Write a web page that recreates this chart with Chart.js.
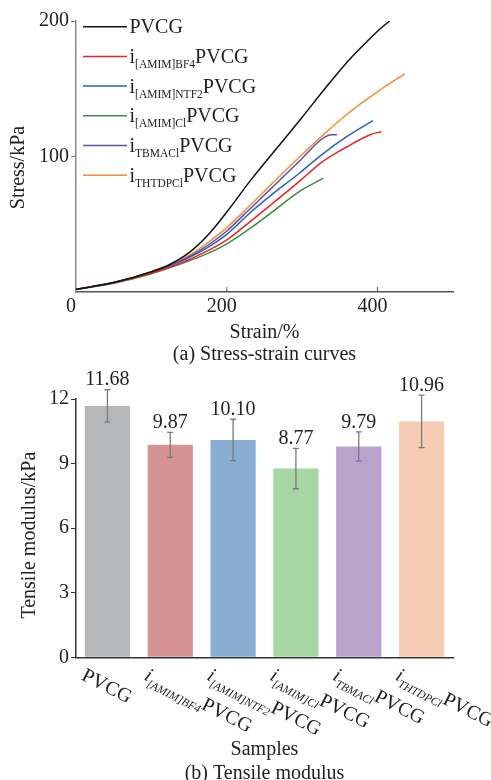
<!DOCTYPE html>
<html>
<head>
<meta charset="utf-8">
<script src="https://cdn.jsdelivr.net/npm/chart.js@4.4.0/dist/chart.umd.min.js"></script>
<style>
  html, body { margin: 0; padding: 0; background: #fff; overflow: hidden; }
  #curveChart { position: absolute; left: 0; top: 0; }
  #modulusChart { position: absolute; left: 0; top: 365px; }
</style>
</head>
<body>
<canvas id="curveChart" width="491" height="365"></canvas>
<canvas id="modulusChart" width="491" height="425"></canvas>
<script>
// (a) stress-strain curves
const strainPVCG    = [0, 50, 100, 125, 150, 175, 200, 231, 275, 300, 330, 360, 388, 405, 416];
const stressPVCG    = [2, 7, 15, 20.5, 29, 42, 59, 82, 112, 129, 150, 170, 186, 195, 200];
const strainBF4     = [0, 50, 100, 125, 150, 175, 200, 231, 260, 297, 324, 359, 390, 405];
const stressBF4     = [2, 6.8, 14, 18.5, 24, 30.5, 38.5, 52, 65, 82, 95, 107, 116, 118.3];
const strainNTF2    = [0, 50, 100, 125, 150, 175, 200, 231, 260, 297, 324, 359, 394];
const stressNTF2    = [2, 7, 14.5, 19.5, 25.5, 33, 42.5, 58.5, 72, 88, 100.5, 114.6, 126.4];
const strainCl      = [0, 50, 100, 125, 150, 175, 200, 231, 260, 297, 328];
const stressCl      = [2, 6.5, 13.5, 18, 23, 28.5, 35.5, 47, 59, 74.5, 84];
const strainTBMACl  = [0, 50, 100, 125, 150, 175, 200, 231, 260, 297, 324, 334, 340, 346];
const stressTBMACl  = [2, 7, 14.5, 19.5, 26, 34.5, 45, 61.5, 77, 97, 112, 115.5, 116, 116];
const strainTHTDPCl = [0, 50, 100, 125, 150, 175, 200, 231, 260, 297, 328, 359, 403, 436];
const stressTHTDPCl = [2, 7, 15, 20, 27, 36.5, 47.5, 64, 80, 100, 116, 131, 149, 161];

const curveSubs = ['', '[AMIM]BF4', '[AMIM]NTF2', '[AMIM]Cl', 'TBMACl', 'THTDPCl'];
const curveColors = ['#111111', '#ec2227', '#2a62b8', '#3d8b45', '#5b53a6', '#f68c38'];
const strainTicks = [0, 200, 400];
const stressTicks = [100, 200];

// (b) tensile modulus
const sampleSubs = ['', '[AMIM]BF4', '[AMIM]NTF2', '[AMIM]Cl', 'TBMACl', 'THTDPCl'];
const sampleLabels = sampleSubs.map(s => (s ? 'i' + s : '') + 'PVCG');
const modulusValues = [11.68, 9.87, 10.10, 8.77, 9.79, 10.96];
const modulusErr = [0.75, 0.58, 0.96, 0.94, 0.68, 1.22];
const barColors = ['#b6b7b9', '#d49394', '#8aaed2', '#a8d6a3', '#b9a3cc', '#f6cdb2'];

const serif = '"Liberation Serif", "Times New Roman", serif';
const ink = '#222';

// i_{sub}PVCG with a lowered subscript
function drawSampleName(ctx, x, y, sub, italic) {
  const st = italic ? 'italic ' : '';
  ctx.fillStyle = ink;
  ctx.textAlign = 'left';
  ctx.textBaseline = 'alphabetic';
  let cx = x;
  if (sub) {
    ctx.font = st + '20px ' + serif;
    ctx.fillText('i', cx, y);
    cx += ctx.measureText('i').width;
    ctx.font = st + '11.5px ' + serif;
    ctx.fillText(sub, cx, y + 5);
    cx += ctx.measureText(sub).width;
  }
  ctx.font = '20px ' + serif;
  ctx.fillText('PVCG', cx, y);
}

const yTitle = {
  id: 'yTitle',
  afterDraw(chart, args, opts) {
    const {ctx, chartArea} = chart;
    ctx.save();
    ctx.translate(opts.x, (chartArea.top + chartArea.bottom) / 2 + opts.shift);
    ctx.rotate(-Math.PI / 2);
    ctx.font = '20px ' + serif;
    ctx.fillStyle = ink;
    ctx.textAlign = 'center';
    ctx.textBaseline = 'middle';
    ctx.fillText(opts.text, 0, 0);
    ctx.restore();
  }
};

const curveLegend = {
  id: 'curveLegend',
  afterDraw(chart) {
    const {ctx, chartArea} = chart;
    ctx.save();
    chart.data.datasets.forEach((ds, i) => {
      const y = chartArea.top + 5.7 + i * 29.7;
      const x0 = chartArea.left + 7;
      ctx.strokeStyle = ds.borderColor;
      ctx.lineWidth = 1.5;
      ctx.beginPath();
      ctx.moveTo(x0, y);
      ctx.lineTo(x0 + 44, y);
      ctx.stroke();
      drawSampleName(ctx, x0 + 46.5, y + 6.6, curveSubs[i], false);
    });
    ctx.restore();
  }
};

// tick marks on the strain axis point into the plot
const innerTicks = {
  id: 'innerTicks',
  afterDraw(chart) {
    const {ctx, chartArea} = chart;
    const xs = chart.scales.x;
    ctx.save();
    ctx.strokeStyle = '#555';
    ctx.lineWidth = 1;
    strainTicks.forEach(v => {
      if (!v) return;
      const px = xs.getPixelForValue(v);
      ctx.beginPath();
      ctx.moveTo(px, chartArea.bottom);
      ctx.lineTo(px, chartArea.bottom - 5);
      ctx.stroke();
    });
    ctx.restore();
  }
};

const errorBars = {
  id: 'errorBars',
  afterDatasetsDraw(chart) {
    const {ctx} = chart;
    const ys = chart.scales.y;
    const meta = chart.getDatasetMeta(0);
    ctx.save();
    meta.data.forEach((bar, i) => {
      const v = modulusValues[i], e = modulusErr[i];
      const top = ys.getPixelForValue(v + e);
      const bot = ys.getPixelForValue(v - e);
      ctx.strokeStyle = '#7a7a7a';
      ctx.lineWidth = 1.3;
      ctx.beginPath();
      ctx.moveTo(bar.x, top); ctx.lineTo(bar.x, bot);
      ctx.moveTo(bar.x - 3, top); ctx.lineTo(bar.x + 3, top);
      ctx.moveTo(bar.x - 3, bot); ctx.lineTo(bar.x + 3, bot);
      ctx.stroke();
      ctx.font = '20px ' + serif;
      ctx.fillStyle = ink;
      ctx.textAlign = 'center';
      ctx.textBaseline = 'middle';
      ctx.fillText(v.toFixed(2), bar.x, top - 9.5);
    });
    ctx.restore();
  }
};

// rotated sample names under the bars
const sampleAxis = {
  id: 'sampleAxis',
  afterDraw(chart) {
    const {ctx, chartArea} = chart;
    const xs = chart.scales.x;
    sampleSubs.forEach((sub, i) => {
      const px = xs.getPixelForTick(i);
      ctx.save();
      ctx.translate(px - 27, chartArea.bottom + 22);
      ctx.rotate(27 * Math.PI / 180);
      drawSampleName(ctx, 0, 0, sub, true);
      ctx.restore();
    });
  }
};

const curves = [
  [strainPVCG, stressPVCG], [strainBF4, stressBF4], [strainNTF2, stressNTF2],
  [strainCl, stressCl], [strainTBMACl, stressTBMACl], [strainTHTDPCl, stressTHTDPCl]
];

new Chart(document.getElementById('curveChart'), {
  type: 'line',
  data: {
    datasets: curves.map(([xs, ys], i) => ({
      label: sampleLabels[i],
      data: xs.map((x, j) => ({x: x, y: ys[j]})),
      borderColor: curveColors[i],
      borderWidth: 1.5,
      pointRadius: 0,
      cubicInterpolationMode: 'monotone',
      fill: false
    }))
  },
  options: {
    responsive: false,
    animation: false,
    layout: { padding: { top: 21, right: 38, left: 0, bottom: 0 } },
    plugins: {
      legend: { display: false },
      tooltip: { enabled: false },
      yTitle: { text: 'Stress/kPa', x: 19, shift: 11 }
    },
    scales: {
      x: {
        type: 'linear', min: 0, max: 500,
        afterBuildTicks: s => { s.ticks = strainTicks.map(v => ({value: v})); },
        afterFit: s => { s.height = 73; },
        grid: { display: false, drawTicks: false },
        border: { display: true, color: '#555', width: 1.5 },
        ticks: { color: ink, font: { family: serif, size: 20 }, padding: 3, labelOffset: -5, maxRotation: 0 },
        title: {
          display: true, text: ['Strain/%', '(a) Stress-strain curves'], color: ink,
          font: { family: serif, size: 20, lineHeight: 1.07 }, padding: { top: 0, bottom: 0 }
        }
      },
      y: {
        min: 0, max: 200,
        afterBuildTicks: s => { s.ticks = stressTicks.map(v => ({value: v})); },
        afterFit: s => { s.width = 76; },
        grid: { drawOnChartArea: false, drawTicks: true, tickLength: 5, color: '#777' },
        border: { color: '#888', width: 1.5 },
        ticks: { color: ink, font: { family: serif, size: 20 }, padding: 2 }
      }
    }
  },
  plugins: [curveLegend, innerTicks, yTitle]
});

new Chart(document.getElementById('modulusChart'), {
  type: 'bar',
  data: {
    labels: sampleLabels,
    datasets: [{
      data: modulusValues,
      backgroundColor: barColors,
      barPercentage: 0.72,
      categoryPercentage: 1
    }]
  },
  options: {
    responsive: false,
    animation: false,
    layout: { padding: { top: 34, right: 38, left: 0, bottom: 0 } },
    plugins: {
      legend: { display: false },
      tooltip: { enabled: false },
      yTitle: { text: 'Tensile modulus/kPa', x: 30, shift: 7 }
    },
    scales: {
      x: {
        grid: { display: false, drawTicks: false },
        border: { display: true, color: '#333', width: 1.5 },
        ticks: { display: false },
        afterFit: s => { s.height = 132.7; },
        title: {
          display: true, text: ['Samples', '(b) Tensile modulus'], color: ink,
          font: { family: serif, size: 20, lineHeight: 1.17 }, padding: { top: 0, bottom: 5 }
        }
      },
      y: {
        min: 0, max: 12,
        ticks: { stepSize: 3, color: ink, font: { family: serif, size: 20 }, padding: 2 },
        afterFit: s => { s.width = 76; },
        grid: { drawOnChartArea: false, drawTicks: true, tickLength: 5, color: '#333' },
        border: { color: '#333', width: 1.5 }
      }
    }
  },
  plugins: [errorBars, sampleAxis, yTitle]
});
</script>
</body>
</html>
